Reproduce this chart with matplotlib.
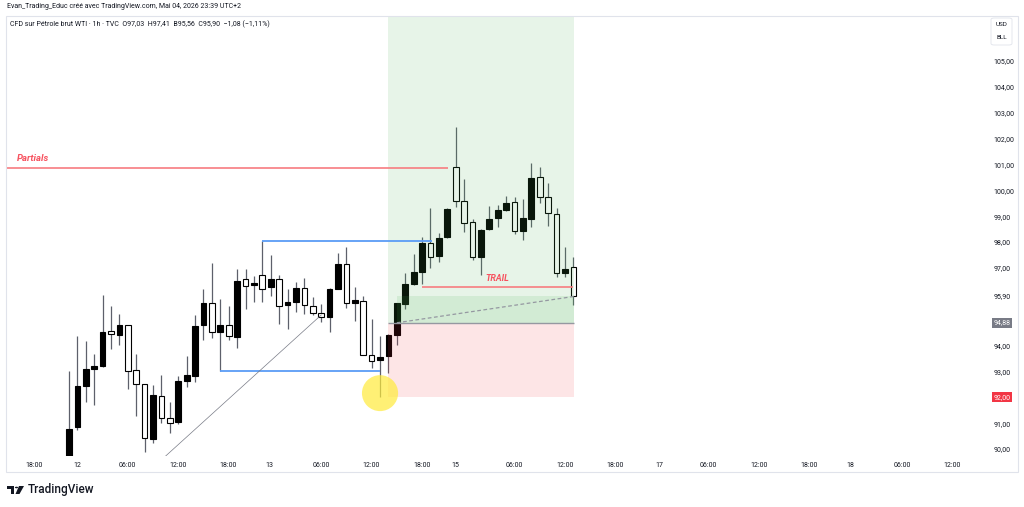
import numpy as np
import matplotlib
matplotlib.use("Agg")
import matplotlib.pyplot as plt
from matplotlib.patches import Rectangle, Ellipse, Polygon, Circle, FancyBboxPatch

plt.rcParams['font.family'] = ['Roboto', 'DejaVu Sans']

# hourly candles, WTI CFD
opens = [89.55, 90.84, 92.44, 93.11, 93.22, 94.56, 94.40, 94.78, 93.04, 92.50,
         90.40, 92.05, 91.19, 91.04, 92.63, 92.84, 94.78, 95.66, 94.54, 94.81,
         94.32, 96.56, 96.33, 96.72, 96.25, 96.56, 95.57, 95.68, 96.23, 95.52,
         95.25, 95.09, 96.20, 97.14, 95.63, 95.73, 93.65, 93.44, 93.60, 94.41,
         95.61, 96.38, 96.86, 97.95, 97.46, 98.18, 100.91, 99.59, 98.77, 97.44,
         98.49, 98.92, 99.24, 99.56, 98.43, 98.89, 100.50, 99.73, 99.09, 96.82,
         97.03]
highs = [93.00, 94.37, 94.19, 93.66, 95.95, 95.53, 95.22, 94.80, 93.69, 92.52,
         92.48, 92.86, 91.83, 92.82, 93.60, 95.18, 96.19, 97.18, 95.79, 95.53,
         96.95, 96.95, 96.69, 98.06, 97.50, 96.73, 96.18, 96.45, 96.60, 95.86,
         95.61, 96.21, 97.59, 97.82, 96.25, 95.93, 95.02, 94.37, 94.45, 95.65,
         96.82, 97.53, 98.18, 99.31, 98.34, 99.30, 102.44, 100.43, 98.88, 98.49,
         99.40, 99.43, 99.78, 99.73, 99.67, 101.05, 100.89, 100.27, 99.31, 97.82,
         97.41]
lows = [89.50, 90.74, 91.83, 91.70, 93.16, 93.87, 94.02, 92.33, 91.29, 89.87,
        90.22, 91.02, 90.63, 90.98, 92.39, 92.58, 94.20, 94.30, 93.03, 94.20,
        93.92, 95.41, 95.70, 95.70, 95.93, 94.83, 94.64, 95.31, 95.22, 95.20,
        94.90, 94.51, 96.18, 95.46, 94.96, 93.62, 93.12, 92.02, 92.93, 94.02,
        95.40, 96.35, 96.38, 96.99, 97.24, 98.16, 99.35, 98.40, 97.31, 96.73,
        98.47, 98.57, 99.22, 98.30, 98.08, 98.57, 99.52, 98.62, 96.66, 96.66,
        95.56]
closes = [90.78, 92.45, 93.09, 93.20, 94.51, 94.45, 94.78, 93.02, 92.53, 90.41,
          92.07, 91.19, 91.01, 92.63, 92.88, 94.74, 95.66, 94.52, 94.78, 94.35,
          96.51, 96.29, 96.40, 96.18, 96.59, 95.53, 95.68, 96.21, 95.56, 95.25,
          95.09, 96.18, 97.15, 95.63, 95.76, 93.64, 93.39, 93.56, 94.40, 95.63,
          96.38, 96.86, 97.95, 97.41, 98.15, 99.28, 99.59, 98.73, 97.44, 98.47,
          98.89, 99.24, 99.53, 98.43, 98.92, 100.47, 99.73, 99.11, 96.82, 96.96,
          95.90]

# time axis (bar index -> label)
tick_pos = [-4.2, 0.95, 6.9, 13, 18.9, 23.9, 30, 35.9, 42, 46,
            53, 59, 65, 70.2, 76, 82.1, 88, 93, 99.1, 105]
tick_lbl = ["18:00", "12", "06:00", "12:00", "18:00", "13", "06:00", "12:00", "18:00", "15",
            "06:00", "12:00", "18:00", "17", "06:00", "12:00", "18:00", "18", "06:00", "12:00"]
price_ticks = [90, 91, 92, 93, 94, 95, 96, 97, 98, 99, 100, 101, 102, 103, 104, 105]

# drawings
partials_price = 100.85
trail_price = 96.28
entry_price = 94.88
stop_price = 92.00
target_price = 107.5
last_price = closes[-1]
pos_start, pos_end = 38, 60.1
range_top, range_bot = 98.06, 93.03
W, H = 1024, 507


def fx(px):
    return px / W


def fy(py):
    return 1 - py / H


fig = plt.figure(figsize=(W / 100, H / 100), dpi=100)
fig.patch.set_facecolor('white')

ax_l, ax_r, ax_t, ax_b = 6, 985, 16, 456
ax = fig.add_axes([fx(ax_l), fy(ax_b), fx(ax_r - ax_l), (ax_b - ax_t) / H])
ax.set_facecolor('white')
ax.set_xlim(-7.49, 108.96)
ax.set_ylim(89.73, 106.74)
for s in ax.spines.values():
    s.set_visible(False)

n = len(opens)
x = np.arange(n)
o = np.array(opens); c = np.array(closes)
up = c >= o

# wicks
ax.vlines(x, lows, highs, color='#5d606b', lw=0.9, zorder=2)
# bodies
bottom = np.minimum(o, c)
height = np.maximum(np.abs(c - o), 0.04)
ax.bar(x, height, bottom=bottom, width=0.68,
       color=np.where(up, 'black', 'white'), edgecolor='black', lw=0.8, zorder=3)

# long position tool
pw = pos_end - pos_start
ax.add_patch(Rectangle((pos_start, entry_price), pw, target_price - entry_price,
                       facecolor='#4CAF50', alpha=0.13, lw=0, zorder=4))
ax.add_patch(Rectangle((pos_start, stop_price), pw, entry_price - stop_price,
                       facecolor='#F23645', alpha=0.13, lw=0, zorder=4))
ax.add_patch(Rectangle((pos_start + 1, entry_price), pos_end - pos_start - 1,
                       last_price - entry_price,
                       facecolor='#4CAF50', alpha=0.13, lw=0, zorder=4))
ax.hlines(entry_price, pos_start, pos_end, color='#9598A1', lw=1, zorder=5)
ax.plot([pos_start + 1, pos_end], [entry_price, last_price], color='#9598A1',
        lw=0.9, ls=(0, (3, 2)), zorder=5)

# range lines
ax.hlines(range_top, 23, 43.2, color='#5B9CF6', lw=1.3, zorder=5)
ax.hlines(range_bot, 18, 37, color='#5B9CF6', lw=1.3, zorder=5)

# trend line
ax.plot([11.4, 30], [89.7, 95.18], color='#787B86', lw=0.5, zorder=5)

# partials / trail
ax.hlines(partials_price, -7.49, 45.1, color='#F77C80', lw=1.2, zorder=5)
ax.text(-6.2, partials_price + 0.2, 'Partials', color='#F7525F', fontsize=6.8,
        fontweight='bold', fontstyle='italic', va='bottom', ha='left', zorder=6)
ax.hlines(trail_price, 42, 60, color='#F77C80', lw=1.2, zorder=5)
ax.text(51, trail_price + 0.13, 'TRAIL', color='#F7525F', fontsize=6.4,
        fontweight='bold', fontstyle='italic', va='bottom', ha='center', zorder=6)

# yellow circle
ax.add_patch(Ellipse((37, 92.16), 4.3, 1.39, facecolor='#FFEB3B', alpha=0.7,
                     lw=0, zorder=6))

# axes ticks
ax.set_xticks(tick_pos)
ax.set_xticklabels(tick_lbl)
ax.tick_params(axis='x', length=0, pad=4, labelsize=5, labelcolor='#131722')
ax.yaxis.tick_right()
ax.set_yticks(price_ticks)
ax.set_yticklabels([f"{p:.2f}".replace('.', ',') for p in price_ticks])
ax.tick_params(axis='y', length=0, pad=6, labelsize=5, labelcolor='#131722')

# price labels
lab_x = 1.0085
ax.text(lab_x, last_price, f"{last_price:.2f}".replace('.', ','), transform=ax.get_yaxis_transform(),
        fontsize=5, color='#131722', va='center', ha='left',
        bbox=dict(facecolor='white', edgecolor='none', pad=1.2), zorder=7, clip_on=False)
ax.text(lab_x, entry_price, f"{entry_price:.2f}".replace('.', ','), transform=ax.get_yaxis_transform(),
        fontsize=5, color='white', va='center', ha='left',
        bbox=dict(facecolor='#787B86', edgecolor='none', pad=1.2), zorder=7, clip_on=False)
ax.text(lab_x, stop_price, f"{stop_price:.2f}".replace('.', ','), transform=ax.get_yaxis_transform(),
        fontsize=5, color='white', va='center', ha='left',
        bbox=dict(facecolor='#F23645', edgecolor='none', pad=1.2), zorder=7, clip_on=False)

# pane border
fig.add_artist(Rectangle((fx(6), fy(472)), fx(1018 - 6), (472 - 16) / H,
                         transform=fig.transFigure, fill=False,
                         edgecolor='#E0E3EB', lw=0.8))
fig.add_artist(FancyBboxPatch((fx(991), fy(45)), fx(21), 27 / H,
                              boxstyle='round,pad=0,rounding_size=0.003',
                              transform=fig.transFigure, fill=False,
                              edgecolor='#E0E3EB', lw=0.6))
fig.text(fx(1001.5), fy(24), 'USD', fontsize=4.6, ha='center', va='center', color='#131722')
fig.text(fx(1001.5), fy(38), 'BLL', fontsize=4.6, ha='center', va='center', color='#131722')

# headers
fig.text(fx(7), fy(7), 'Evan_Trading_Educ créé avec TradingView.com, Mai 04, 2026 23:39 UTC+2',
         fontsize=5.0, ha='left', va='center', color='#131722')
fig.text(fx(10), fy(24),
         'CFD sur Pétrole brut WTI · 1h · TVC  O97,03  H97,41  B95,56  C95,90  \u22121,08 (\u22121,11%)',
         fontsize=5.0, ha='left', va='center', color='#131722')

# TradingView logo
fig.add_artist(Polygon([(fx(7), fy(486)), (fx(14), fy(486)), (fx(14), fy(494)),
                        (fx(11), fy(494)), (fx(11), fy(489)), (fx(7), fy(489))],
                       closed=True, transform=fig.transFigure, facecolor='#131722', lw=0))
fig.add_artist(Circle((fx(16.5), fy(487.5)), 1.6 / W, transform=fig.transFigure,
                      facecolor='#131722', lw=0))
fig.add_artist(Polygon([(fx(19), fy(486)), (fx(24), fy(486)), (fx(19.5), fy(494)),
                        (fx(15.5), fy(494))],
                       closed=True, transform=fig.transFigure, facecolor='#131722', lw=0))
fig.text(fx(28), fy(490), 'TradingView', fontsize=8.5, fontweight='medium',
         ha='left', va='center', color='#131722')

fig.savefig('out.png', dpi=100)
